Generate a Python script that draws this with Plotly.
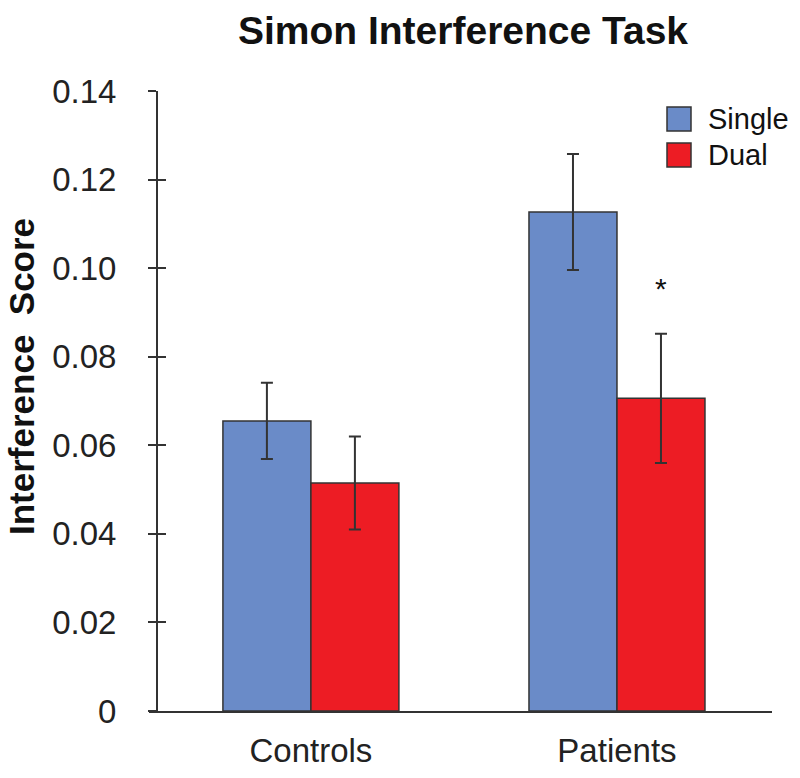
import plotly.graph_objects as go

categories = ["Controls", "Patients"]
series_names = ["Single", "Dual"]
single_vals = [0.0655, 0.1127]
single_err = [0.0086, 0.0131]
dual_vals = [0.0515, 0.0706]
dual_err = [0.0105, 0.0146]
tick_vals = [0, 0.02, 0.04, 0.06, 0.08, 0.10, 0.12, 0.14]
tick_text = ["0", "0.02", "0.04", "0.06", "0.08", "0.10", "0.12", "0.14"]
sig_marker_y = 0.0955

colors = ["#6A8BC8", "#ED1C24"]
edge = "#333333"
font_family = "Arial, 'Liberation Sans', sans-serif"

fig = go.Figure()
for name, vals, errs, col in [
    (series_names[0], single_vals, single_err, colors[0]),
    (series_names[1], dual_vals, dual_err, colors[1]),
]:
    fig.add_trace(go.Bar(
        x=categories, y=vals, name=name,
        marker=dict(color=col, line=dict(color=edge, width=1.5)),
        error_y=dict(type="data", array=errs, visible=True,
                     color=edge, thickness=2, width=6),
        showlegend=False,
    ))

# invisible trace on overlay axis for inner ticks
fig.add_trace(go.Scatter(x=categories, y=[0, 0], yaxis="y2",
                         mode="markers", marker=dict(opacity=0),
                         showlegend=False, hoverinfo="skip"))

fig.update_layout(
    width=800, height=778,
    margin=dict(l=149, r=28, t=91, b=67, autoexpand=False),
    paper_bgcolor="white", plot_bgcolor="white",
    barmode="group", bargap=0.425, bargroupgap=0,
    font=dict(family=font_family, color="#222222"),
    title=dict(text="<b>Simon Interference Task</b>",
               x=463/800, xref="container", xanchor="center",
               y=1-30/778, yref="container", yanchor="middle",
               font=dict(size=39, color="#111111")),
    xaxis=dict(range=[-0.529, 1.5065], showline=True, linecolor=edge,
               linewidth=2, ticks="", showgrid=False, zeroline=False,
               automargin=False,
               tickfont=dict(size=33), ticklabelstandoff=9),
    yaxis=dict(range=[0, 0.14], anchor="free", position=8/623,
               showline=True, linecolor=edge, linewidth=2,
               ticks="outside", ticklen=8, tickwidth=2, tickcolor=edge,
               tickvals=tick_vals, ticktext=tick_text, automargin=False,
               tickfont=dict(size=33), ticklabelstandoff=25,
               showgrid=False, zeroline=False),
    yaxis2=dict(range=[0, 0.14], overlaying="y", anchor="free",
                position=8/623, matches="y", showline=False,
                ticks="inside", ticklen=8, tickwidth=2, tickcolor=edge,
                tickvals=tick_vals, showticklabels=False, automargin=False,
                showgrid=False, zeroline=False),
)

# y-axis title
fig.add_annotation(text="<b>Interference  Score</b>", textangle=-90,
                   xref="paper", yref="paper",
                   x=(21-149)/623, y=(711-377)/620,
                   xanchor="center", yanchor="middle", showarrow=False,
                   borderpad=0,
                   font=dict(size=35, color="#111111"))

# significance marker
fig.add_annotation(text="*", x=categories[1], y=sig_marker_y, xshift=44,
                   showarrow=False, font=dict(size=30, color="#111111"),
                   xanchor="center", yanchor="middle")

# custom legend
for i, (name, col) in enumerate(zip(series_names, colors)):
    top = 107 + i*36
    fig.add_shape(type="rect", xref="paper", yref="paper",
                  x0=(667-149)/623, x1=(691-149)/623,
                  y0=(711-(top+24))/620, y1=(711-top)/620,
                  fillcolor=col, line=dict(color=edge, width=1.5))
    fig.add_annotation(text=name, xref="paper", yref="paper",
                       x=(706-149)/623, y=(711-(top+12))/620,
                       xanchor="left", yanchor="middle", showarrow=False,
                       font=dict(size=29, color="#111111"))

fig.write_html("out.html", config={"displayModeBar": False},
               post_script="document.body.style.margin='0px';")
